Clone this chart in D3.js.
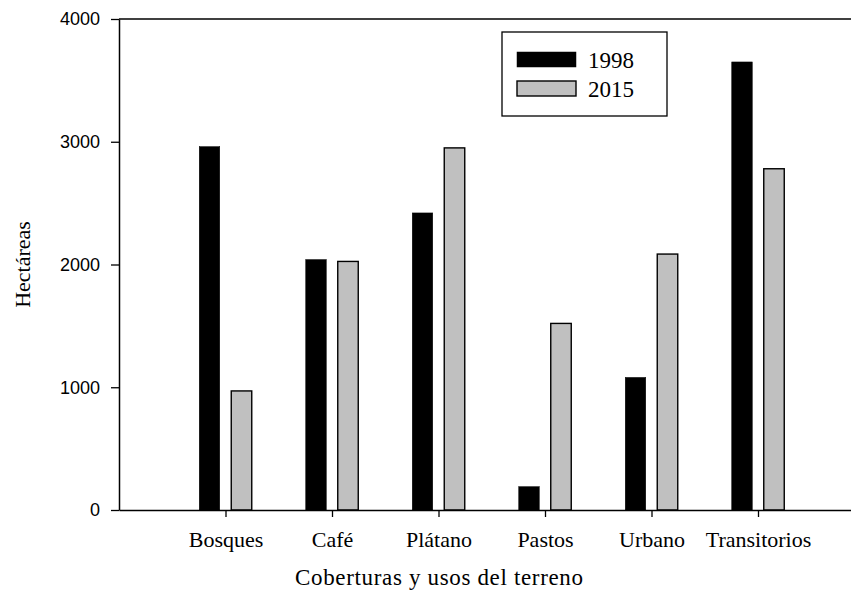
<!DOCTYPE html>
<html>
<head>
<meta charset="utf-8">
<script src="https://cdn.jsdelivr.net/npm/d3@7"></script>
<style>
  body { margin: 0; background: #fff; }
  .serif { font-family: "Liberation Serif", "Times New Roman", serif; fill: #000; }
  .sans { font-family: "Liberation Sans", Arial, sans-serif; fill: #000; }
</style>
</head>
<body>
<div id="chart"></div>
<script>
// data
const categories = ['Bosques', 'Café', 'Plátano', 'Pastos', 'Urbano', 'Transitorios'];
const years = ['1998', '2015'];
const values1998 = [2960, 2040, 2420, 190, 1080, 3650];
const values2015 = [970, 2025, 2950, 1520, 2085, 2780];
const yTicks = [0, 1000, 2000, 3000, 4000];

const width = 851;
const height = 594;

const svg = d3.select('#chart')
    .append('svg')
    .attr('width', width)
    .attr('height', height);

// plot box: left 119, top 19, bottom 510; x runs past the right edge
const xScale = d3.scaleLinear()
    .domain([0, categories.length + 1])
    .range([119, 864.5]);
const yScale = d3.scaleLinear()
    .domain([0, 4000])
    .range([510, 19]);

const barW = 20.5;
const gap = 11.5;
const colors = ['#000000', '#c0c0c0'];

const rows = categories.map((c, i) => ({ cat: c, i: i + 1, v: [values1998[i], values2015[i]] }));

// bars
years.forEach((yr, s) => {
  svg.selectAll('.bar' + s)
      .data(rows)
      .enter()
      .append('rect')
      .attr('x', d => s === 0 ? xScale(d.i) - gap / 2 - barW : xScale(d.i) + gap / 2)
      .attr('y', d => yScale(d.v[s]))
      .attr('width', barW)
      .attr('height', d => yScale(0) - yScale(d.v[s]))
      .attr('fill', colors[s])
      .attr('stroke', '#000')
      .attr('stroke-width', s === 0 ? 0.5 : 1.4);
});

// y axis
const yAxis = d3.axisLeft(yScale)
    .tickValues(yTicks)
    .tickSize(8)
    .tickSizeOuter(0)
    .tickPadding(11)
    .tickFormat(d3.format('d'));
const gy = svg.append('g')
    .attr('transform', `translate(${xScale(0)},0)`)
    .call(yAxis);
gy.select('.domain').attr('stroke-width', 1.5);
gy.selectAll('.tick line').attr('stroke-width', 1.3);
gy.selectAll('text').attr('class', 'sans').style('font-size', '18px').attr('font-family', null);

// x axis
const xAxis = d3.axisBottom(xScale)
    .tickValues(rows.map(d => d.i))
    .tickSize(7)
    .tickSizeOuter(0)
    .tickPadding(14)
    .tickFormat(i => categories[i - 1]);
const gx = svg.append('g')
    .attr('transform', `translate(0,${yScale(0)})`)
    .call(xAxis);
gx.select('.domain').attr('stroke-width', 1.5);
gx.selectAll('.tick line').attr('stroke-width', 1.3);
gx.selectAll('text').attr('class', 'serif').style('font-size', '22px').attr('font-family', null);

// top frame line
svg.append('line')
    .attr('x1', xScale(0)).attr('x2', width)
    .attr('y1', yScale(4000)).attr('y2', yScale(4000))
    .attr('stroke', '#000')
    .attr('stroke-width', 1.5);

// axis titles
svg.append('text')
    .attr('class', 'serif')
    .attr('x', 439)
    .attr('y', 585)
    .style('font-size', '23px')
    .attr('textLength', 288)
    .style('text-anchor', 'middle')
    .text('Coberturas y usos del terreno');

svg.append('text')
    .attr('class', 'serif')
    .attr('transform', `translate(30, ${yScale(2000)}) rotate(-90)`)
    .style('font-size', '22px')
    .style('text-anchor', 'middle')
    .text('Hectáreas');

// legend
const legend = svg.append('g').attr('transform', 'translate(502,32)');
legend.append('rect')
    .attr('width', 165)
    .attr('height', 84)
    .attr('fill', '#fff')
    .attr('stroke', '#000')
    .attr('stroke-width', 1.3);
years.forEach((yr, s) => {
  legend.append('rect')
      .attr('x', 15)
      .attr('y', 20 + s * 29)
      .attr('width', 59)
      .attr('height', 15)
      .attr('fill', colors[s])
      .attr('stroke', '#000')
      .attr('stroke-width', s === 0 ? 0.5 : 1.4);
  legend.append('text')
      .attr('class', 'serif')
      .attr('x', 86)
      .attr('y', 36 + s * 29)
      .style('font-size', '23px')
      .text(yr);
});
</script>
</body>
</html>
